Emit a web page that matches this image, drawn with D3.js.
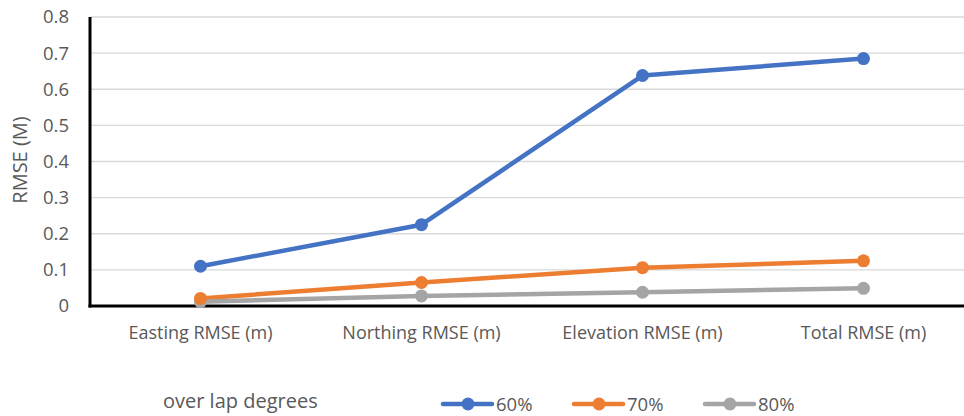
<!DOCTYPE html>
<html>
<head>
<meta charset="utf-8">
<script src="https://cdn.jsdelivr.net/npm/d3@7"></script>
<style>
  html, body { margin: 0; padding: 0; background: #fff; }
  svg { display: block; }
  text { font-family: "Open Sans", "Noto Sans", sans-serif; fill: #595959; }
</style>
</head>
<body>
<svg id="chart" width="964" height="416"></svg>
<script>
// RMSE by component for three overlap degrees
const categories = ["Easting RMSE (m)", "Northing RMSE (m)", "Elevation RMSE (m)", "Total RMSE (m)"];
const seriesNames = ["60%", "70%", "80%"];
const values60 = [0.11, 0.225, 0.638, 0.685];
const values70 = [0.021, 0.065, 0.106, 0.125];
const values80 = [0.012, 0.028, 0.038, 0.049];
const yTicks = [0, 0.1, 0.2, 0.3, 0.4, 0.5, 0.6, 0.7, 0.8];
const colors = ["#4472C4", "#ED7D31", "#A5A5A5"];

const series = [values60, values70, values80].map((v, i) => ({ name: seriesNames[i], values: v, color: colors[i] }));

const svg = d3.select("#chart");
const plotLeft = 90, plotRight = 974, plotTop = 17, plotBottom = 306;

const x = d3.scaleBand().domain(categories).range([plotLeft, plotRight]);
const y = d3.scaleLinear().domain([0, 0.8]).range([plotBottom, plotTop]);

// gridlines
svg.append("g").selectAll("line").data(yTicks.filter(t => t > 0)).join("line")
  .attr("x1", plotLeft).attr("x2", 964)
  .attr("y1", d => y(d)).attr("y2", d => y(d))
  .attr("stroke", "#d9d9d9").attr("stroke-width", 1.3);

// y axis labels
const yAxis = d3.axisLeft(y).tickValues(yTicks).tickSize(0).tickPadding(21)
  .tickFormat(d => d === 0 ? "0" : d3.format(".1f")(d));
const gy = svg.append("g").attr("transform", `translate(${plotLeft},0)`).call(yAxis);
gy.select(".domain").remove();
gy.selectAll("text").style("font-size", "18.5px").attr("fill", "#595959");

// x axis labels
const xAxis = d3.axisBottom(x).tickSize(0);
const gx = svg.append("g").attr("transform", `translate(0,${plotBottom})`).call(xAxis);
gx.select(".domain").remove();
gx.selectAll("text").style("font-size", "18px").attr("fill", "#595959")
  .attr("y", 33).attr("dy", 0);

// axis lines
svg.append("line").attr("x1", plotLeft).attr("x2", plotLeft).attr("y1", plotTop).attr("y2", plotBottom + 1.5)
  .attr("stroke", "#000").attr("stroke-width", 3);
svg.append("line").attr("x1", plotLeft - 1.5).attr("x2", 964).attr("y1", plotBottom).attr("y2", plotBottom)
  .attr("stroke", "#000").attr("stroke-width", 3);

// y axis title
svg.append("text")
  .attr("transform", `translate(27,160) rotate(-90)`)
  .attr("text-anchor", "middle")
  .style("font-size", "20px")
  .text("RMSE (M)");

const cx = d => x(d) + x.bandwidth() / 2;
const line = d3.line().x((d, i) => cx(categories[i])).y(d => y(d));

const g = svg.append("g");
series.forEach(s => {
  g.append("path").datum(s.values).attr("d", line)
    .attr("fill", "none").attr("stroke", s.color).attr("stroke-width", 4.5)
    .attr("stroke-linejoin", "round").attr("stroke-linecap", "round");
});
series.slice().reverse().forEach(s => {
  g.selectAll(null).data(s.values).join("circle")
    .attr("cx", (d, i) => cx(categories[i])).attr("cy", d => y(d)).attr("r", 6.5)
    .attr("fill", s.color);
});

// legend
svg.append("text").attr("x", 163).attr("y", 408).style("font-size", "20px").text("over lap degrees");
const legendX = [443, 574, 705];
series.forEach((s, i) => {
  const lg = svg.append("g").attr("transform", `translate(${legendX[i]},404)`);
  lg.append("line").attr("x1", 0).attr("x2", 49).attr("stroke", s.color).attr("stroke-width", 4.5).attr("stroke-linecap", "round");
  lg.append("circle").attr("cx", 25).attr("r", 6.5).attr("fill", s.color);
  lg.append("text").attr("x", 53).attr("y", 6.5).style("font-size", "18.5px").text(s.name);
});
</script>
</body>
</html>
